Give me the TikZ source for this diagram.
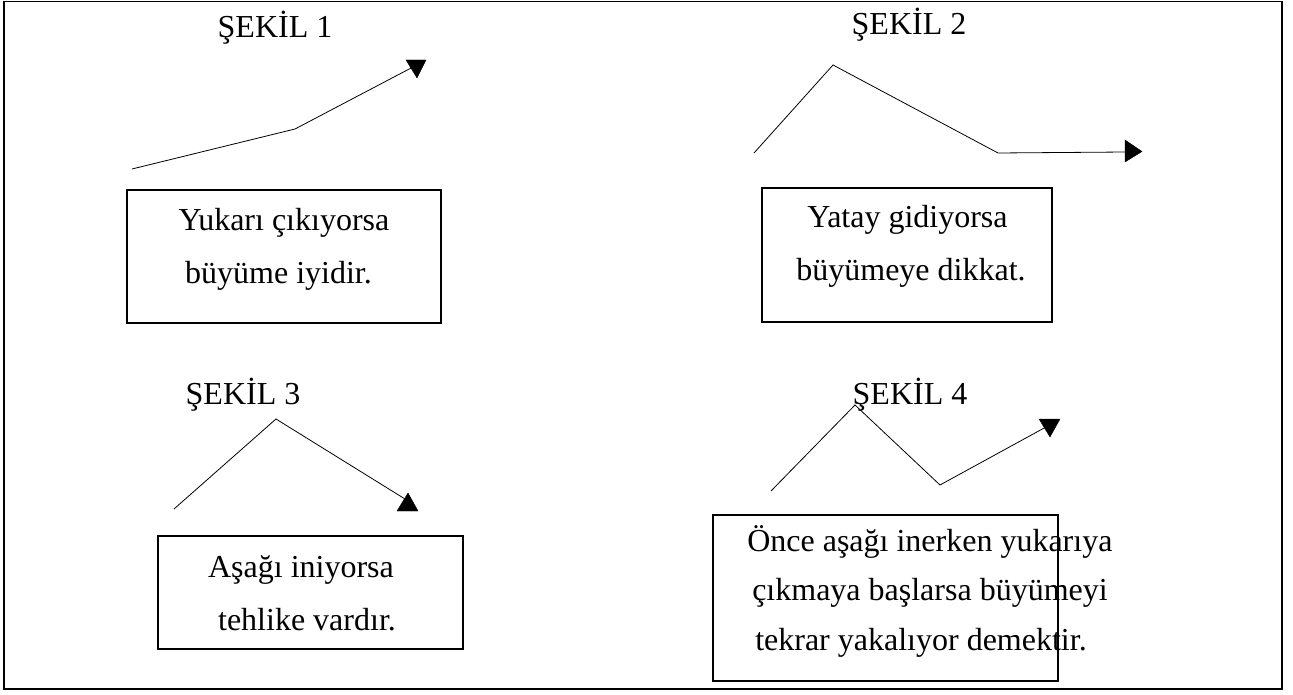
\documentclass[tikz,border=0pt]{standalone}
\usepackage{fontspec}
\setmainfont{Liberation Serif}
\begin{document}
\begin{tikzpicture}[x=0.75pt,y=-0.75pt,
  txt/.style={inner sep=0pt,font=\fontsize{24}{28}\selectfont},
  frame/.style={draw=black,line width=1.1pt},
  boxst/.style={draw=black,line width=1pt,inner sep=0pt},
  graphline/.style={draw=black,line width=0.6pt,line join=miter},
  headfill/.style={fill=black,draw=black,line width=0.3pt}]
\useasboundingbox (0,0) rectangle (1293,695);
\draw[frame] (4,1.5) rectangle (1282,689);
% titles
\node[txt,anchor=base] (t1) at (275,38) {ŞEKİL 1};
\node[txt,anchor=base] (t2) at (909,35) {ŞEKİL 2};
\node[txt,anchor=base] (t3) at (243,405) {ŞEKİL 3};
\node[txt,anchor=base] (t4) at (910,405) {ŞEKİL 4};
% figure 1
\coordinate (a1) at (132,169);
\coordinate (a2) at (295,129);
\coordinate (a3) at (413,67);
\draw[graphline] (a1) -- (a2) -- (a3);
\fill[headfill] (406,60) -- (426,60) -- (417,78) -- cycle;
% figure 2
\coordinate (b1) at (754,153);
\coordinate (b2) at (833,65);
\coordinate (b3) at (998,153);
\coordinate (b4) at (1126,152);
\draw[graphline] (b1) -- (b2) -- (b3) -- (b4);
\fill[headfill] (1125,140) -- (1142,151.5) -- (1125,162) -- cycle;
% figure 3
\coordinate (c1) at (174,509);
\coordinate (c2) at (276,419);
\coordinate (c3) at (405,499);
\draw[graphline] (c1) -- (c2) -- (c3);
\fill[headfill] (408,493) -- (418,511) -- (397,511) -- cycle;
% figure 4
\coordinate (d1) at (771,491);
\coordinate (d2) at (855,405);
\coordinate (d3) at (940,485);
\coordinate (d4) at (1046,427);
\draw[graphline] (d1) -- (d2) -- (d3) -- (d4);
\fill[headfill] (1039,419) -- (1060,419) -- (1050,437) -- cycle;
% boxes
\node[boxst,minimum width=314*0.75pt,minimum height=133*0.75pt] (box1) at (284,256.5) {};
\node[boxst,minimum width=290*0.75pt,minimum height=134*0.75pt] (box2) at (907,255) {};
\node[boxst,minimum width=305*0.75pt,minimum height=113*0.75pt] (box3) at (310.5,592.5) {};
\node[boxst,minimum width=345*0.75pt,minimum height=166*0.75pt] (box4) at (885.5,598) {};
% box texts
\node[txt,anchor=base] (p11) at (284,231) {Yukarı çıkıyorsa};
\node[txt,anchor=base] (p12) at (278.5,284) {büyüme iyidir.};
\node[txt,anchor=base] (p21) at (907.5,228) {Yatay gidiyorsa};
\node[txt,anchor=base] (p22) at (911,281) {büyümeye dikkat.};
\node[txt,anchor=base] (p31) at (301,577) {Aşağı iniyorsa};
\node[txt,anchor=base] (p32) at (307,630) {tehlike vardır.};
\node[txt,anchor=base west] (p41) at (747,551) {Önce aşağı inerken yukarıya};
\node[txt,anchor=base west] (p42) at (752,600) {çıkmaya başlarsa büyümeyi};
\node[txt,anchor=base west] (p43) at (755,650) {tekrar yakalıyor demektir.};
\end{tikzpicture}
\end{document}
